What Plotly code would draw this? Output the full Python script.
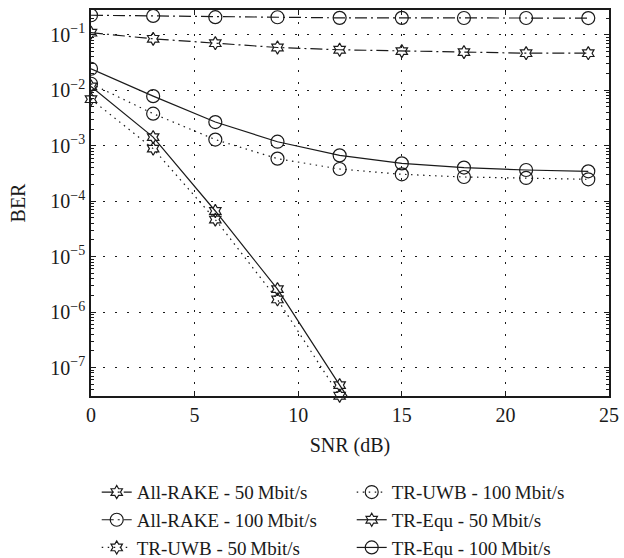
import plotly.graph_objects as go

# SNR sweep (dB)
snr = [0, 3, 6, 9, 12, 15, 18, 21, 24]

# Bit error rates per receiver / data rate
all_rake_50 = [0.109, 0.0847, 0.0706, 0.059, 0.0537, 0.0507, 0.0486, 0.0466, 0.0466]
all_rake_100 = [0.225, 0.219, 0.208, 0.207, 0.202, 0.202, 0.201, 0.201, 0.200]
tr_uwb_50_snr = [0, 3, 6, 9, 12]
tr_uwb_50 = [0.0069, 0.000885, 4.66e-5, 1.69e-6, 3.1e-8]
tr_uwb_100 = [0.0131, 0.00378, 0.00129, 0.000585, 0.00038, 0.000305, 0.000273, 0.000262, 0.000248]
tr_equ_50_snr = [0, 3, 6, 9, 12, 15]
tr_equ_50 = [0.0117, 0.00143, 6.65e-5, 2.59e-6, 4.83e-8, 1.0e-9]
tr_equ_100 = [0.0244, 0.00783, 0.00267, 0.00118, 0.00067, 0.00048, 0.000403, 0.000365, 0.000345]

y_tick_vals = [1e-7, 1e-6, 1e-5, 1e-4, 1e-3, 1e-2, 1e-1]
y_tick_text = ["10<sup>\u22127</sup>", "10<sup>\u22126</sup>", "10<sup>\u22125</sup>",
               "10<sup>\u22124</sup>", "10<sup>\u22123</sup>", "10<sup>\u22122</sup>",
               "10<sup>\u22121</sup>"]

INK = "#1a1a1a"
FONT = "Liberation Serif"
FS = 20
LEG_FS = 19
DASHDOT = "12px,4px,2px,4px"
DOTTED = "1.5px,4.5px"

def series(name, x, y, symbol, dash, size, clip=True):
    return go.Scatter(
        x=x, y=y, name=name, mode="lines+markers",
        line=dict(color=INK, width=1.2, dash=dash),
        marker=dict(symbol=symbol, size=size, color=INK,
                    line=dict(color=INK, width=1.2)),
        cliponaxis=clip,
    )

fig = go.Figure()
# legend is filled row by row, two entries per row
fig.add_trace(series("All-RAKE - 50\u2009Mbit/s", snr, all_rake_50, "hexagram-open", DASHDOT, 10))
fig.add_trace(series("TR-UWB - 100\u2009Mbit/s", snr, tr_uwb_100, "circle-open", DOTTED, 13))
fig.add_trace(series("All-RAKE - 100\u2009Mbit/s", snr, all_rake_100, "circle-open", DASHDOT, 13))
fig.add_trace(series("TR-Equ - 50\u2009Mbit/s", tr_equ_50_snr, tr_equ_50, "hexagram-open", "solid", 10))
fig.add_trace(series("TR-UWB - 50\u2009Mbit/s", tr_uwb_50_snr, tr_uwb_50, "hexagram-open", DOTTED, 10, clip=False))
fig.add_trace(series("TR-Equ - 100\u2009Mbit/s", snr, tr_equ_100, "circle-open", "solid", 13))

grid = dict(showgrid=True, gridcolor=INK, gridwidth=1, griddash="1.5px,10.5px")

fig.update_layout(
    width=624, height=558,
    margin=dict(l=91, r=5, t=10, b=162),
    paper_bgcolor="white", plot_bgcolor="white",
    font=dict(family=FONT, size=FS, color=INK),
    showlegend=True,
    legend=dict(
        orientation="h", xref="container", yref="container",
        x=0.155, xanchor="left", y=0.152, yanchor="top",
        entrywidth=210, entrywidthmode="pixels",
        font=dict(family=FONT, size=LEG_FS, color=INK),
        bgcolor="rgba(0,0,0,0)", itemsizing="trace",
    ),
    xaxis=dict(
        range=[0, 25], tickmode="array", tickvals=[0, 5, 10, 15, 20, 25],
        ticks="inside", ticklen=5, tickcolor=INK, mirror="ticks",
        showline=True, linecolor=INK, linewidth=1.5,
        zeroline=False, ticklabeloverflow="allow",
        title=dict(text="SNR (dB)", font=dict(family=FONT, size=FS), standoff=13),
        **grid,
    ),
    yaxis=dict(
        type="log", range=[-7.513, -0.553],
        tickmode="array", tickvals=y_tick_vals, ticktext=y_tick_text,
        ticks="inside", ticklen=5, tickcolor=INK, mirror="ticks",
        showline=True, linecolor=INK, linewidth=1.5,
        zeroline=False,
        minor=dict(ticks="inside", ticklen=3, tickcolor=INK, dtick="D1", showgrid=False),
        title=dict(text="BER", font=dict(family=FONT, size=FS), standoff=19),
        **grid,
    ),
)

fig.write_html("out.html")
